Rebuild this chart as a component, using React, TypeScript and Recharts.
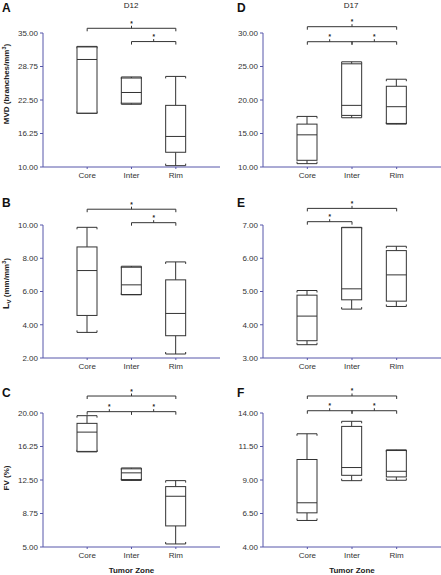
import React from 'react';
import { Bar, ComposedChart, ReferenceLine, XAxis, YAxis } from 'recharts';

const zones = ['Core', 'Inter', 'Rim'];

// box stats per zone: [min, q1, median, q3, max]
const mvdD12 = [
  [20.0, 20.05, 30.06, 32.4, 32.5],
  [21.7, 21.9, 23.9, 26.6, 26.8],
  [10.25, 12.75, 15.7, 21.5, 26.9],
];
const mvdD17 = [
  [10.5, 11.0, 14.8, 16.4, 17.55],
  [17.35, 17.7, 19.2, 25.4, 25.7],
  [16.4, 16.5, 19.0, 22.05, 23.1],
];
const lvD12 = [
  [3.54, 4.56, 7.26, 8.68, 9.86],
  [5.8, 5.82, 6.4, 7.46, 7.52],
  [2.24, 3.34, 4.68, 6.7, 7.78],
];
const lvD17 = [
  [3.4, 3.52, 4.26, 4.89, 5.03],
  [4.47, 4.75, 5.08, 6.92, 6.93],
  [4.55, 4.71, 5.5, 6.23, 6.36],
];
const fvD12 = [
  [15.65, 15.7, 17.86, 18.84, 19.7],
  [12.45, 12.55, 13.3, 13.75, 13.85],
  [5.34, 7.36, 10.68, 11.76, 12.43],
];
const fvD17 = [
  [5.98, 6.55, 7.3, 10.53, 12.45],
  [8.95, 9.35, 9.93, 13.0, 13.38],
  [8.98, 9.23, 9.65, 11.2, 11.25],
];

const mvdD12Ticks = [10, 16.25, 22.5, 28.75, 35];
const mvdD17Ticks = [10, 15, 20, 25, 30];
const lvD12Ticks = [2, 4, 6, 8, 10];
const lvD17Ticks = [3, 4, 5, 6, 7];
const fvD12Ticks = [5, 8.75, 12.5, 16.25, 20];
const fvD17Ticks = [4, 6.5, 9, 11.5, 14];

// significance brackets: [from, to, y]
const mvdD12Sig: [string, string, number][] = [['Core', 'Rim', 35.88], ['Inter', 'Rim', 33.4]];
const mvdD17Sig: [string, string, number][] = [['Core', 'Rim', 30.94], ['Core', 'Inter', 28.7], ['Inter', 'Rim', 28.7]];
const lvD12Sig: [string, string, number][] = [['Core', 'Rim', 10.95], ['Inter', 'Rim', 10.14]];
const lvD17Sig: [string, string, number][] = [['Core', 'Rim', 7.5], ['Core', 'Inter', 7.1]];
const fvD12Sig: [string, string, number][] = [['Core', 'Rim', 21.9], ['Core', 'Inter', 20.15], ['Inter', 'Rim', 20.15]];
const fvD17Sig: [string, string, number][] = [['Core', 'Rim', 15.27], ['Core', 'Inter', 14.17], ['Inter', 'Rim', 14.17]];

const FONT = '"Liberation Sans", Arial, Helvetica, sans-serif';
const AXIS = '#5656aa';
const INK = '#333';

const BoxShape = (props: any) => {
  const { x, y, width, height, payload } = props;
  const [min, q1, med, q3, max] = payload.stats;
  const top = Math.min(y, y + height);
  const h = Math.abs(height);
  const py = (v: number) => top + h - ((v - min) / (max - min)) * h;
  const cx = x + width / 2;
  const r = x + width;
  return (
    <g fill="none" stroke={INK} strokeWidth={1}>
      <line x1={cx} x2={cx} y1={py(max)} y2={py(q3)} />
      <line x1={cx} x2={cx} y1={py(q1)} y2={py(min)} />
      <path d={`M${x},${py(max) + 2} V${py(max)} H${r} V${py(max) + 2}`} />
      <path d={`M${x},${py(min) - 2} V${py(min)} H${r} V${py(min) - 2}`} />
      <rect x={x} y={py(q3)} width={width} height={py(q1) - py(q3)} fill="#fff" />
      <line x1={x} x2={r} y1={py(med)} y2={py(med)} />
    </g>
  );
};

const Bracket = (props: any) => {
  const { x1, x2, y1 } = props;
  const xm = (x1 + x2) / 2;
  return (
    <g>
      <path
        d={`M${x1},${y1 + 3} V${y1} H${x2} V${y1 + 3} M${xm},${y1} V${y1 - 2.5}`}
        stroke={INK}
        strokeWidth={1}
        fill="none"
      />
      <text x={xm} y={y1 - 2.5} textAnchor="middle" fontSize={6.5} fontWeight="bold" fill="#222" fontFamily={FONT}>
        *
      </text>
    </g>
  );
};

type YLabelKind = 'mvd' | 'lv' | 'fv' | null;

const yLabel = (kind: YLabelKind, shift: number) => (p: any) => {
  if (!kind) return null;
  const vb = p.viewBox;
  const x = 9;
  const y = vb.y + vb.height / 2 + shift;
  return (
    <text
      x={x}
      y={y}
      transform={`rotate(-90, ${x}, ${y})`}
      textAnchor="middle"
      fontSize={8}
      fontWeight="bold"
      fill="#222"
      fontFamily={FONT}
    >
      {kind === 'mvd' && (
        <>
          <tspan>MVD (branches/mm</tspan>
          <tspan dy={-3} fontSize={5.5}>3</tspan>
          <tspan dy={3}>)</tspan>
        </>
      )}
      {kind === 'lv' && (
        <>
          <tspan fontSize={9}>L</tspan>
          <tspan dy={2} fontSize={6}>V</tspan>
          <tspan dy={-2}> (mm/mm</tspan>
          <tspan dy={-3} fontSize={5.5}>3</tspan>
          <tspan dy={3}>)</tspan>
        </>
      )}
      {kind === 'fv' && <tspan>FV (%)</tspan>}
    </text>
  );
};

const zoneTitle = (p: any) => {
  const vb = p.viewBox;
  return (
    <text
      x={vb.x + vb.width / 2}
      y={vb.y + vb.height - 2}
      textAnchor="middle"
      fontSize={8}
      fontWeight="bold"
      fill="#222"
      fontFamily={FONT}
    >
      Tumor Zone
    </text>
  );
};

interface PanelProps {
  stats: number[][];
  ticks: number[];
  sig: [string, string, number][];
  width: number;
  height: number;
  top: number;
  xHeight: number;
  label: YLabelKind;
  labelShift?: number;
  showZoneTitle?: boolean;
}

const Panel: React.FC<PanelProps> = ({ stats, ticks, sig, width, height, top, xHeight, label, labelShift = 0, showZoneTitle }) => {
  const data = zones.map((zone, i) => ({ zone, range: [stats[i][0], stats[i][4]], stats: stats[i] }));
  return (
    <ComposedChart width={width} height={height} data={data} margin={{ top, right: 0, bottom: 0, left: 0 }}>
      <XAxis
        dataKey="zone"
        type="category"
        padding={{ left: 22, right: 22 }}
        height={xHeight}
        stroke={AXIS}
        tickSize={2}
        tickMargin={3}
        interval={0}
        tick={{ fill: INK, fontSize: 8, fontFamily: FONT }}
        label={showZoneTitle ? { content: zoneTitle } : undefined}
      />
      <YAxis
        type="number"
        domain={[ticks[0], ticks[ticks.length - 1]]}
        ticks={ticks}
        interval={0}
        allowDataOverflow
        width={43}
        stroke={AXIS}
        tickSize={3}
        tickMargin={2}
        tick={{ fill: INK, fontSize: 8, fontFamily: FONT }}
        tickFormatter={(v: number) => v.toFixed(2)}
        label={{ content: yLabel(label, labelShift) }}
      />
      <Bar dataKey="range" barSize={20} shape={BoxShape} isAnimationActive={false} />
      {sig.map(([from, to, y], i) => (
        <ReferenceLine
          key={i}
          segment={[{ x: from, y }, { x: to, y }]}
          ifOverflow="visible"
          shape={Bracket}
        />
      ))}
    </ComposedChart>
  );
};

const letterStyle: React.CSSProperties = {
  position: 'absolute',
  fontFamily: FONT,
  fontWeight: 'bold',
  fontSize: 12,
  lineHeight: '12px',
  color: '#111',
};

const titleStyle: React.CSSProperties = {
  position: 'absolute',
  fontFamily: FONT,
  fontSize: 8,
  lineHeight: '8px',
  color: '#222',
  width: 80,
  textAlign: 'center',
};

export default function App() {
  return (
    <div style={{ position: 'absolute', left: 0, top: 0, width: 441, height: 575, background: '#fff', overflow: 'hidden' }}>
      <div style={{ position: 'absolute', left: 0, top: 0 }}>
        <Panel stats={mvdD12} ticks={mvdD12Ticks} sig={mvdD12Sig} width={220} height={190} top={33} xHeight={23} label="mvd" labelShift={-16} />
      </div>
      <div style={{ position: 'absolute', left: 220, top: 0 }}>
        <Panel stats={mvdD17} ticks={mvdD17Ticks} sig={mvdD17Sig} width={221} height={190} top={33} xHeight={23} label={null} />
      </div>
      <div style={{ position: 'absolute', left: 0, top: 190 }}>
        <Panel stats={lvD12} ticks={lvD12Ticks} sig={lvD12Sig} width={220} height={190} top={35} xHeight={22} label="lv" labelShift={-8} />
      </div>
      <div style={{ position: 'absolute', left: 220, top: 190 }}>
        <Panel stats={lvD17} ticks={lvD17Ticks} sig={lvD17Sig} width={221} height={190} top={35} xHeight={22} label={null} />
      </div>
      <div style={{ position: 'absolute', left: 0, top: 380 }}>
        <Panel stats={fvD12} ticks={fvD12Ticks} sig={fvD12Sig} width={220} height={195} top={33} xHeight={28} label="fv" labelShift={-2} showZoneTitle />
      </div>
      <div style={{ position: 'absolute', left: 220, top: 380 }}>
        <Panel stats={fvD17} ticks={fvD17Ticks} sig={fvD17Sig} width={221} height={195} top={33} xHeight={28} label={null} showZoneTitle />
      </div>

      <div style={{ ...letterStyle, left: 2, top: 2 }}>A</div>
      <div style={{ ...letterStyle, left: 237, top: 2 }}>D</div>
      <div style={{ ...letterStyle, left: 2, top: 197 }}>B</div>
      <div style={{ ...letterStyle, left: 237, top: 197 }}>E</div>
      <div style={{ ...letterStyle, left: 2, top: 387 }}>C</div>
      <div style={{ ...letterStyle, left: 237, top: 387 }}>F</div>

      <div style={{ ...titleStyle, left: 91, top: 2 }}>D12</div>
      <div style={{ ...titleStyle, left: 311, top: 2 }}>D17</div>
    </div>
  );
}
